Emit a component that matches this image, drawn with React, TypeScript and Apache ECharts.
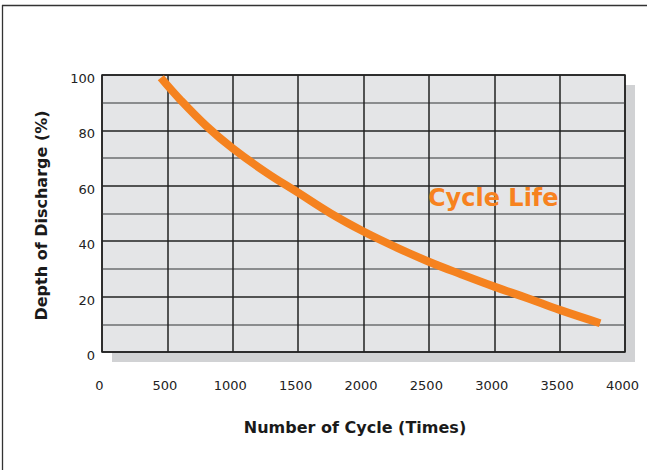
import React, { useEffect, useRef } from "react";
import * as echarts from "echarts";

const cycles = [450, 600, 800, 1000, 1250, 1500, 1750, 2000, 2250, 2500, 2750, 3000, 3250, 3500, 3810];
const dod = [99, 91, 81.5, 73.5, 65, 57.5, 50, 43.5, 37.8, 32.6, 28, 23.6, 19.5, 15.2, 10.4];
const xTicks = [0, 500, 1000, 1500, 2000, 2500, 3000, 3500, 4000];
const yTicks = [0, 20, 40, 60, 80, 100];

const seriesName = "Cycle Life";
const xTitle = "Number of Cycle (Times)";
const yTitle = "Depth of Discharge (%)";

const GRID = { left: 102, top: 75, width: 523, height: 277 };
const ORANGE = "#f5821f";
const FONT = "'DejaVu Sans', Verdana, sans-serif";

export default function App() {
  const ref = useRef<HTMLDivElement>(null);
  useEffect(() => {
    if (!ref.current) return;
    const chart = echarts.init(ref.current, null, { renderer: "svg" });
    chart.setOption({
      animation: false,
      backgroundColor: "#ffffff",
      grid: {
        left: GRID.left,
        top: GRID.top,
        width: GRID.width,
        height: GRID.height,
        show: true,
        backgroundColor: "#e4e5e7",
        borderColor: "#222",
        borderWidth: 1.5,
      },
      xAxis: {
        type: "value",
        min: xTicks[0],
        max: xTicks[xTicks.length - 1],
        interval: 500,
        axisLine: { show: false },
        axisTick: { show: false },
        axisLabel: {
          color: "#222",
          fontFamily: FONT,
          fontSize: 13,
          margin: 27,
          formatter: (v: number) => (xTicks.includes(v) ? `{a|${v}}` : ""),
          rich: {
            a: { color: "#222", fontFamily: FONT, fontSize: 13, padding: [0, 5, 0, 0] },
          },
        },
        splitLine: { show: true, lineStyle: { color: "#222", width: 1.5 } },
      },
      yAxis: {
        type: "value",
        min: yTicks[0],
        max: yTicks[yTicks.length - 1],
        interval: 10,
        axisLine: { show: false },
        axisTick: { show: false },
        axisLabel: {
          color: "#222",
          fontFamily: FONT,
          fontSize: 13,
          margin: 7,
          formatter: (v: number) => (yTicks.includes(v) ? `{a|${v}}` : ""),
          rich: {
            a: { color: "#222", fontFamily: FONT, fontSize: 13, padding: [7, 0, 0, 0] },
          },
        },
        splitLine: {
          show: true,
          lineStyle: { color: ["#222", "#6d6e70"], width: 1.5 },
        },
      },
      series: [
        {
          name: seriesName,
          type: "line",
          data: cycles.map((c, i) => [c, dod[i]]),
          smooth: 0.4,
          symbol: "none",
          lineStyle: { color: ORANGE, width: 8, cap: "butt" },
          z: 5,
        },
      ],
      graphic: [
        {
          type: "rect",
          z: -1,
          shape: { x: GRID.left + 10, y: GRID.top + 10, width: GRID.width, height: GRID.height },
          style: { fill: "#d1d2d4" },
        },
        {
          type: "line",
          shape: { x1: 2, y1: 5.5, x2: 647, y2: 5.5 },
          style: { stroke: "#333", lineWidth: 1.3 },
        },
        {
          type: "line",
          shape: { x1: 2.5, y1: 5, x2: 2.5, y2: 470 },
          style: { stroke: "#333", lineWidth: 1.3 },
        },
        {
          type: "text",
          x: 428,
          y: 198,
          z: 10,
          style: {
            text: seriesName,
            fill: "#f7821f",
            font: `bold 24px ${FONT}`,
            textAlign: "left",
            textVerticalAlign: "middle",
          },
        },
        {
          type: "text",
          x: 355,
          y: 427,
          style: {
            text: xTitle,
            fill: "#1a1a1a",
            font: `bold 16px ${FONT}`,
            textAlign: "center",
            textVerticalAlign: "middle",
          },
        },
        {
          type: "text",
          x: 41,
          y: 215.5,
          rotation: Math.PI / 2,
          style: {
            text: yTitle,
            fill: "#1a1a1a",
            font: `bold 16px ${FONT}`,
            textAlign: "center",
            textVerticalAlign: "middle",
          },
        },
      ],
    });
    return () => chart.dispose();
  }, []);
  return (
    <div
      ref={ref}
      style={{ position: "fixed", left: 0, top: 0, width: 647, height: 470 }}
    />
  );
}
